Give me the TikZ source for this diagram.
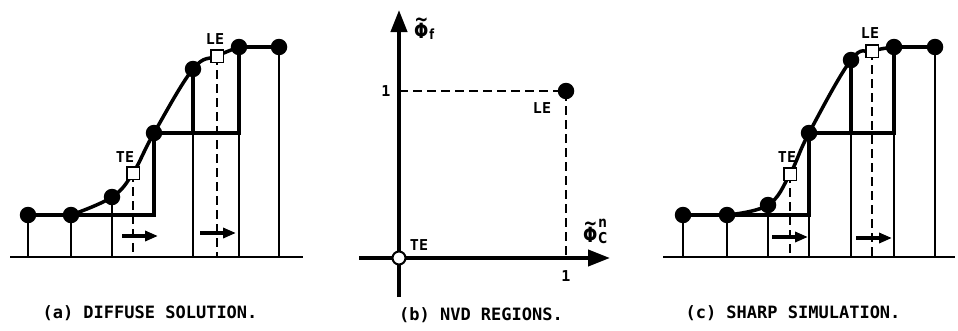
\documentclass[tikz,border=0pt]{standalone}
\usepackage{fontspec}
\usetikzlibrary{arrows.meta}
\newfontfamily\lblfont{DejaVu Sans Mono}
\newfontfamily\symfont{DejaVu Sans}[FakeStretch=0.8]
\newcommand\tphi{\leavevmode\setbox0\hbox{\symfont\bfseries Φ}\rlap{\hbox to\wd0{\hss\raisebox{12pt}{\symfont\bfseries\textasciitilde}\hss}}\box0}
\pgfdeclarelayer{bg}
\pgfsetlayers{bg,main}
\tikzset{
  dotn/.style={circle, fill=black, inner sep=0pt, minimum size=16.5pt},
  sqn/.style={draw=black, fill=white, line width=1.5pt, inner sep=0pt, minimum size=12.5pt},
  opn/.style={circle, draw=black, fill=white, line width=2pt, inner sep=0pt, minimum size=13pt},
  gridln/.style={line width=1.9pt},
  baseln/.style={line width=2.6pt},
  stepln/.style={line width=3.5pt, line join=miter},
  curveln/.style={line width=3.5pt},
  dsh/.style={line width=1.9pt, dash pattern=on 9pt off 5pt},
  mvarrow/.style={line width=3.6pt, -{Triangle[length=13pt,width=10pt]}},
  axis/.style={line width=4pt, -{Triangle[length=22pt,width=16pt]}},
  lbl/.style={font=\fontsize{15}{17}\selectfont\lblfont\bfseries, inner sep=0pt},
  capt/.style={font=\fontsize{17}{20}\selectfont\lblfont\bfseries, inner sep=0pt},
  sym/.style={font=\fontsize{21}{24}\selectfont\symfont\bfseries, inner sep=0pt},
}
\begin{document}
\begin{tikzpicture}[x=1pt,y=-1pt]
\useasboundingbox (0,0) rectangle (958,330);

% ---------------- panel (a) ----------------
\node[dotn] (a1) at (28,215) {};
\node[dotn] (a2) at (71,215) {};
\node[dotn] (a3) at (112,197) {};
\node[dotn] (a4) at (154,133) {};
\node[dotn] (a5) at (193,69) {};
\node[dotn] (a6) at (239,47) {};
\node[dotn] (a7) at (279,47) {};
\node[sqn] (aT) at (133,173) {};
\node[sqn] (aL) at (217,56) {};
\node[lbl] (aTl) at (125,157) {TE};
\node[lbl] (aLl) at (215,39) {LE};
\coordinate (abL) at (10,257);
\coordinate (abR) at (303,257);
\coordinate (aA1s) at (122,236);
\coordinate (aA1e) at (158,236);
\coordinate (aA2s) at (200,233);
\coordinate (aA2e) at (236,233);
\node[capt] (acap) at (150,313) {(a) DIFFUSE SOLUTION.};

\begin{pgfonlayer}{bg}
\draw[baseln] (abL) -- (abR);
\foreach \n in {a1,a2,a3,a5,a6,a7}
  \draw[gridln] (\n.center) -- (\n |- abL);
\draw[dsh] (aT.center) -- (aT |- abL);
\draw[dsh] (aL.center) -- (aL |- abL);
\draw[stepln] (a1.center) -- (a4 |- a1) -- (a4.center) -- (a6 |- a4) -- (a6.center) -- (a7.center);
\draw[stepln] (a5.center) -- (a5 |- a4);
\draw[curveln] plot[smooth, tension=0.65] coordinates {(a2.center) (a3.center) (aT.center) (a4.center) (a5.center) (aL.center) (a6.center)};
\draw[mvarrow] (aA1s) -- (aA1e);
\draw[mvarrow] (aA2s) -- (aA2e);
\end{pgfonlayer}

% ---------------- panel (b) ----------------
\node[opn] (bO) at (399,258) {};
\node[dotn] (bL) at (566,91) {};
\coordinate (bYb) at (399,297);
\coordinate (bYt) at (399,10);
\coordinate (bXl) at (359,258);
\coordinate (bXr) at (610,258);
\coordinate (bY1) at (399,91);
\node[lbl] (b1y) at (386,91) {1};
\node[lbl] (b1x) at (566,276) {1};
\node[lbl] (bLl) at (542,108) {LE};
\node[lbl] (bTl) at (419,245) {TE};
\node[sym, anchor=base west] (bphif) at (414,38) {\tphi\kern1pt{\fontsize{14}{16}\selectfont\raisebox{-1pt}{f}}};
\node[sym, anchor=base west] (bphic) at (583,242) {\tphi\kern1pt\rlap{\fontsize{15}{17}\selectfont\raisebox{15pt}{n}}{\fontsize{15}{17}\selectfont\raisebox{-1pt}{C}}};
\node[capt] (bcap) at (481,315) {(b) NVD REGIONS.};

\begin{pgfonlayer}{bg}
\draw[axis] (bYb) -- (bYt);
\draw[axis] (bXl) -- (bXr);
\draw[dsh] (bY1) -- (bL.center) -- (bL |- bO);
\end{pgfonlayer}

% ---------------- panel (c) ----------------
\node[dotn] (c1) at (683,215) {};
\node[dotn] (c2) at (727,215) {};
\node[dotn] (c3) at (768,205) {};
\node[dotn] (c4) at (809,133) {};
\node[dotn] (c5) at (851,60) {};
\node[dotn] (c6) at (894,47) {};
\node[dotn] (c7) at (935,47) {};
\node[sqn] (cT) at (790,174) {};
\node[sqn] (cL) at (872,51) {};
\node[lbl] (cTl) at (787,157) {TE};
\node[lbl] (cLl) at (870,33) {LE};
\coordinate (cbL) at (663,257);
\coordinate (cbR) at (955,257);
\coordinate (cA1s) at (772,237);
\coordinate (cA1e) at (808,237);
\coordinate (cA2s) at (856,238);
\coordinate (cA2e) at (892,238);
\node[capt] (ccap) at (793,313) {(c) SHARP SIMULATION.};

\begin{pgfonlayer}{bg}
\draw[baseln] (cbL) -- (cbR);
\foreach \n in {c1,c2,c3,c4,c5,c6,c7}
  \draw[gridln] (\n.center) -- (\n |- cbL);
\draw[dsh] (cT.center) -- (cT |- cbL);
\draw[dsh] (cL.center) -- (cL |- cbL);
\draw[stepln] (c1.center) -- (c4 |- c1) -- (c4.center) -- (c6 |- c4) -- (c6.center) -- (c7.center);
\draw[stepln] (c5.center) -- (c5 |- c4);
\draw[curveln] plot[smooth, tension=0.65] coordinates {(c2.center) (c3.center) (cT.center) (c4.center) (c5.center) (cL.center) (c6.center)};
\draw[mvarrow] (cA1s) -- (cA1e);
\draw[mvarrow] (cA2s) -- (cA2e);
\end{pgfonlayer}
\end{tikzpicture}
\end{document}
